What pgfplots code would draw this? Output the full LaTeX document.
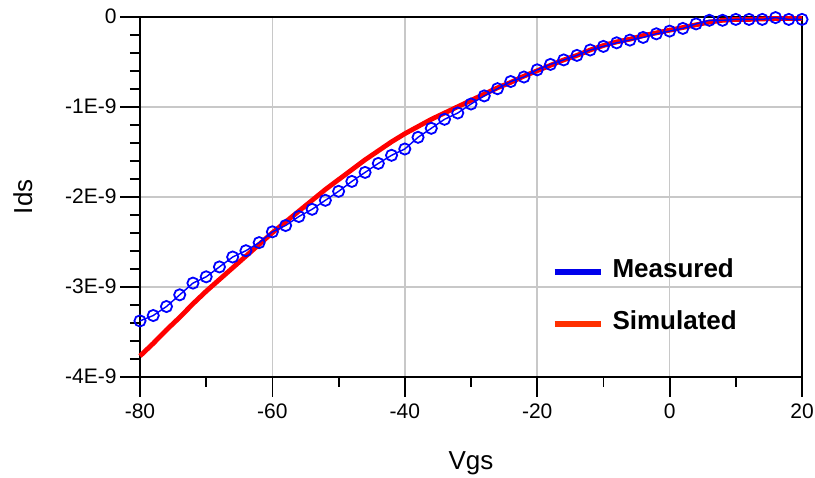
\documentclass[border=0pt]{standalone}
\usepackage{fontspec}
\setmainfont{Liberation Sans}
\usepackage{pgfplots}
\pgfplotsset{compat=1.18}

\definecolor{measblue}{RGB}{0,0,255}
\definecolor{simred}{RGB}{255,0,0}
\definecolor{legblue}{RGB}{0,0,235}
\definecolor{legred}{RGB}{255,48,0}
\definecolor{gridgray}{RGB}{200,200,200}

% Ids in units of 1E-9
\pgfplotstableread{
vgs ids
-80 -3.38
-78 -3.32
-76 -3.22
-74 -3.09
-72 -2.96
-70 -2.89
-68 -2.78
-66 -2.67
-64 -2.60
-62 -2.51
-60 -2.39
-58 -2.32
-56 -2.22
-54 -2.14
-52 -2.04
-50 -1.94
-48 -1.83
-46 -1.73
-44 -1.63
-42 -1.54
-40 -1.47
-38 -1.34
-36 -1.24
-34 -1.14
-32 -1.07
-30 -0.97
-28 -0.88
-26 -0.80
-24 -0.72
-22 -0.67
-20 -0.59
-18 -0.53
-16 -0.48
-14 -0.43
-12 -0.37
-10 -0.33
-8 -0.29
-6 -0.26
-4 -0.23
-2 -0.19
0 -0.16
2 -0.13
4 -0.08
6 -0.04
8 -0.04
10 -0.03
12 -0.03
14 -0.03
16 -0.01
18 -0.03
20 -0.03
}\measured

\pgfplotstableread{
vgs ids
-80 -3.77
-78 -3.63
-76 -3.48
-74 -3.34
-72 -3.19
-70 -3.05
-68 -2.92
-66 -2.79
-64 -2.66
-62 -2.53
-60 -2.40
-58 -2.28
-56 -2.16
-54 -2.04
-52 -1.92
-50 -1.81
-48 -1.70
-46 -1.59
-44 -1.49
-42 -1.39
-40 -1.30
-38 -1.22
-36 -1.14
-34 -1.07
-32 -1.00
-30 -0.93
-28 -0.86
-26 -0.79
-24 -0.73
-22 -0.66
-20 -0.60
-18 -0.54
-16 -0.48
-14 -0.43
-12 -0.37
-10 -0.32
-8 -0.28
-6 -0.25
-4 -0.21
-2 -0.18
0 -0.15
2 -0.12
4 -0.09
6 -0.06
8 -0.04
10 -0.03
12 -0.03
14 -0.025
16 -0.02
18 -0.02
20 -0.02
}\simulated

\begin{document}
\begin{tikzpicture}
\begin{axis}[
  scale only axis, width=331pt, height=180pt,
  xmin=-80, xmax=20, ymin=-4, ymax=0,
  xtick={-80,-60,-40,-20,0,20},
  xticklabels={-80,-60,-40,-20,0,20},
  ytick={-4,-3,-2,-1,0},
  yticklabels={-4E-9,-3E-9,-2E-9,-1E-9,0},
  minor x tick num=1, minor y tick num=4,
  tick align=outside, tick pos=left,
  major tick length=10pt, minor tick length=5pt,
  tick style={black, line width=0.9pt},
  axis line style={line width=1pt},
  grid=major, major grid style={gridgray, line width=0.8pt},
  ticklabel style={font=\fontsize{10.5}{12.5}\selectfont},
  yticklabel style={inner xsep=1.5pt},
  xlabel={Vgs}, ylabel={Ids},
  label style={font=\fontsize{13}{15}\selectfont},
  xlabel style={at={(axis description cs:0.5,-0.239)}, anchor=center},
  ylabel style={at={(axis description cs:-0.177,0.5)}, anchor=center},
  clip=false,
  legend cell align=left,
  legend image code/.code={\draw[#1, line width=3pt] (0pt,0pt) -- (23pt,0pt);},
  legend style={draw=none, fill=none, at={(axis description cs:0.621,0.2194)},
    anchor=west, inner sep=0pt, column sep=4.5pt, row sep=13pt,
    font=\fontsize{13}{15}\selectfont\bfseries,
    nodes={inner sep=0pt, text height=9.5pt, text depth=3.5pt}},
]
\addplot[simred, line width=2.4pt, forget plot] table[x=vgs, y=ids] {\simulated};
\addplot[measblue, line width=0.7pt, mark=o, mark size=2.8pt,
  mark options={line width=0.9pt}, forget plot] table[x=vgs, y=ids] {\measured};
\addlegendimage{legblue}
\addlegendentry{Measured}
\addlegendimage{legred}
\addlegendentry{Simulated}
\coordinate (sw) at (rel axis cs:0,0);
\coordinate (ne) at (rel axis cs:1,1);
\end{axis}
\pgfresetboundingbox
\path ([shift={(-70pt,-50.5pt)}]sw) rectangle ([shift={(6.5pt,8.35pt)}]ne);
\end{tikzpicture}
\end{document}
